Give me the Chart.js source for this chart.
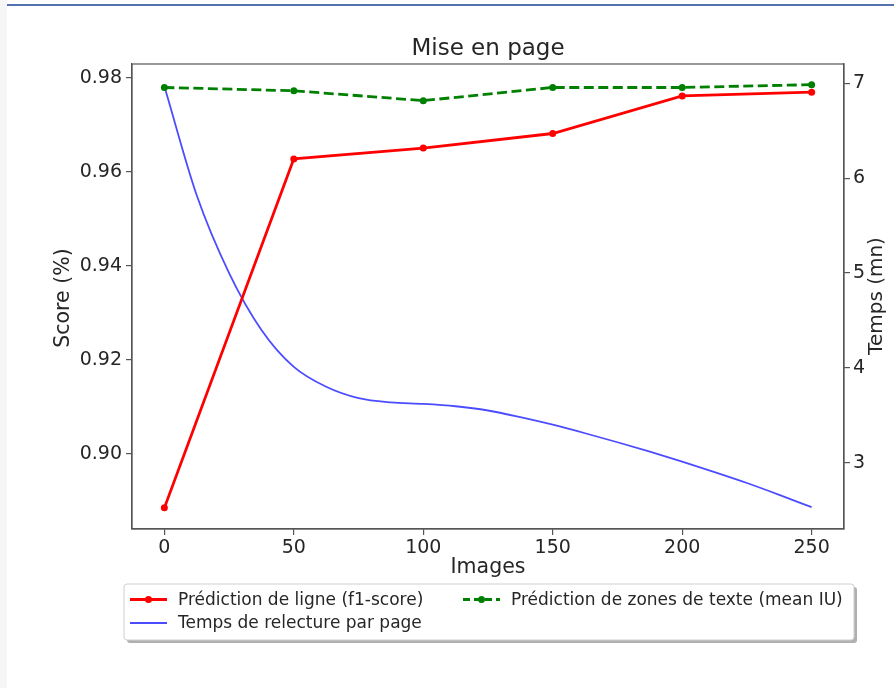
<!DOCTYPE html>
<html>
<head>
<meta charset="utf-8">
<script src="https://cdn.jsdelivr.net/npm/chart.js@4.4.0/dist/chart.umd.min.js"></script>
<style>
  html, body { margin: 0; padding: 0; background: #fff; }
  body { width: 894px; height: 688px; position: relative; overflow: hidden; }
  #wrap { position: absolute; left: 0; top: 0; width: 894px; height: 688px; }
  #topbar { position: absolute; left: 7px; top: 4px; width: 887px; height: 2px; background: #5272ad; }
  #leftbar { position: absolute; left: 0; top: 0; width: 7px; height: 688px; background: #f6f6f6; }
</style>
</head>
<body>
<div id="wrap"><canvas id="chart"></canvas></div>
<div id="topbar"></div>
<div id="leftbar"></div>
<script>
// --- data ---
const images = [0, 50, 100, 150, 200, 250];
const f1Score = [0.8885, 0.9628, 0.9651, 0.9682, 0.9762, 0.9770];
const meanIU = [0.9780, 0.9773, 0.9752, 0.9780, 0.9780, 0.9786];

// reading time curve (right axis), every 12.5 images
const readX = [0, 12.5, 25, 37.5, 50, 62.5, 75, 87.5, 100, 112.5, 125, 137.5, 150, 162.5, 175, 187.5, 200, 212.5, 225, 237.5, 250];
const readTime = [6.97, 5.82, 5.00, 4.40, 4.01, 3.80, 3.68, 3.635, 3.62, 3.595, 3.55, 3.48, 3.40, 3.31, 3.215, 3.115, 3.01, 2.90, 2.785, 2.66, 2.53];

const xTicks = [0, 50, 100, 150, 200, 250];
const scoreTicks = [0.90, 0.92, 0.94, 0.96, 0.98];
const timeTicks = [3, 4, 5, 6, 7];

const FONT = "'DejaVu Sans', sans-serif";
const AXIS = '#555';
const TEXT = '#262626';

const toPoints = (xs, ys) => xs.map((x, i) => ({ x: x, y: ys[i] }));

const legendItems = [
  { text: 'Prédiction de ligne (f1-score)', color: '#ff0000', dash: [], marker: true, x: 130, y: 599.5 },
  { text: 'Prédiction de zones de texte (mean IU)', color: '#008000', dash: [7, 4], marker: true, x: 463, y: 599.5 },
  { text: 'Temps de relecture par page', color: 'rgba(0,0,255,0.7)', dash: [], marker: false, x: 130, y: 623 }
];

// titres, cadre et légende dessinés à la main
const decor = {
  id: 'decor',
  afterDraw(chart) {
    const ctx = chart.ctx;
    const a = chart.chartArea;
    ctx.save();

    // frame
    ctx.strokeStyle = AXIS;
    ctx.lineWidth = 1.2;
    ctx.strokeRect(a.left, a.top, a.right - a.left, a.bottom - a.top);

    // title + axis titles
    ctx.fillStyle = TEXT;
    ctx.textAlign = 'center';
    ctx.textBaseline = 'alphabetic';
    ctx.font = '23px ' + FONT;
    ctx.fillText('Mise en page', (a.left + a.right) / 2, 55);
    ctx.font = '20.5px ' + FONT;
    ctx.fillText('Images', (a.left + a.right) / 2, 573);

    ctx.save();
    ctx.translate(68.5, 298);
    ctx.rotate(-Math.PI / 2);
    ctx.fillText('Score (%)', 0, 0);
    ctx.restore();

    ctx.save();
    ctx.translate(882, 296);
    ctx.rotate(-Math.PI / 2);
    ctx.font = '20px ' + FONT;
    ctx.fillText('Temps (mn)', 0, 0);
    ctx.restore();

    // legend box with shadow
    const lx = 124, ly = 584, lw = 730, lh = 56;
    ctx.fillStyle = '#b0b0b0';
    ctx.beginPath();
    ctx.roundRect(lx + 3, ly + 3, lw, lh, 3);
    ctx.fill();
    ctx.fillStyle = '#fff';
    ctx.strokeStyle = '#cfcfcf';
    ctx.lineWidth = 1;
    ctx.beginPath();
    ctx.roundRect(lx, ly, lw, lh, 3);
    ctx.fill();
    ctx.stroke();

    ctx.font = '17px ' + FONT;
    ctx.textAlign = 'left';
    ctx.textBaseline = 'middle';
    legendItems.forEach(function(it) {
      ctx.strokeStyle = it.color;
      ctx.lineWidth = it.marker ? 2.8 : 1.8;
      ctx.setLineDash(it.dash);
      ctx.beginPath();
      ctx.moveTo(it.x, it.y);
      ctx.lineTo(it.x + 37, it.y);
      ctx.stroke();
      ctx.setLineDash([]);
      if (it.marker) {
        ctx.fillStyle = it.color;
        ctx.beginPath();
        ctx.arc(it.x + 18.5, it.y, 3.5, 0, Math.PI * 2);
        ctx.fill();
      }
      ctx.fillStyle = TEXT;
      ctx.fillText(it.text, it.x + 48, it.y + 1);
    });

    ctx.restore();
  }
};

const tickGrid = { display: true, drawOnChartArea: false, drawTicks: true, tickLength: 6, color: AXIS, lineWidth: 1.2 };
const tickFont = { family: FONT, size: 19 };

document.addEventListener('DOMContentLoaded', function() {
  new Chart(document.getElementById('chart'), {
    type: 'line',
    data: {
      datasets: [
        {
          label: 'Prédiction de ligne (f1-score)',
          data: toPoints(images, f1Score),
          yAxisID: 'y',
          borderColor: '#ff0000',
          backgroundColor: '#ff0000',
          borderWidth: 2.8,
          pointRadius: 3.5,
          pointBorderWidth: 0,
          tension: 0
        },
        {
          label: 'Prédiction de zones de texte (mean IU)',
          data: toPoints(images, meanIU),
          yAxisID: 'y',
          borderColor: '#008000',
          backgroundColor: '#008000',
          borderWidth: 2.8,
          borderDash: [10, 4.5],
          pointRadius: 3.5,
          pointBorderWidth: 0,
          tension: 0
        },
        {
          label: 'Temps de relecture par page',
          data: toPoints(readX, readTime),
          yAxisID: 'y1',
          borderColor: 'rgba(0,0,255,0.7)',
          borderWidth: 1.8,
          pointRadius: 0,
          cubicInterpolationMode: 'monotone'
        }
      ]
    },
    options: {
      responsive: true,
      maintainAspectRatio: false,
      animation: false,
      devicePixelRatio: 1,
      layout: { padding: { top: 64, left: 0, right: 0, bottom: 0 } },
      plugins: {
        legend: { display: false },
        title: { display: false },
        tooltip: { enabled: false }
      },
      scales: {
        x: {
          type: 'linear',
          position: 'bottom',
          min: -12.5,
          max: 262.5,
          grid: tickGrid,
          border: { display: true, color: AXIS, width: 1.2 },
          ticks: { font: tickFont, color: TEXT, padding: 2, maxRotation: 0 },
          afterBuildTicks: function(s) { s.ticks = xTicks.map(v => ({ value: v })); },
          afterFit: function(s) { s.height = 159; }
        },
        y: {
          type: 'linear',
          position: 'left',
          min: 0.8840,
          max: 0.9830,
          grid: tickGrid,
          border: { display: true, color: AXIS, width: 1.2 },
          ticks: { font: tickFont, color: TEXT, padding: 4, callback: v => v.toFixed(2) },
          afterBuildTicks: function(s) { s.ticks = scoreTicks.map(v => ({ value: v })); },
          afterFit: function(s) { s.width = 132; }
        },
        y1: {
          type: 'linear',
          position: 'right',
          min: 2.30,
          max: 7.205,
          grid: tickGrid,
          border: { display: true, color: AXIS, width: 1.2 },
          ticks: { font: tickFont, color: TEXT, padding: 3, callback: v => String(v) },
          afterBuildTicks: function(s) { s.ticks = timeTicks.map(v => ({ value: v })); },
          afterFit: function(s) { s.width = 50; }
        }
      }
    },
    plugins: [decor]
  });
});
</script>
</body>
</html>
